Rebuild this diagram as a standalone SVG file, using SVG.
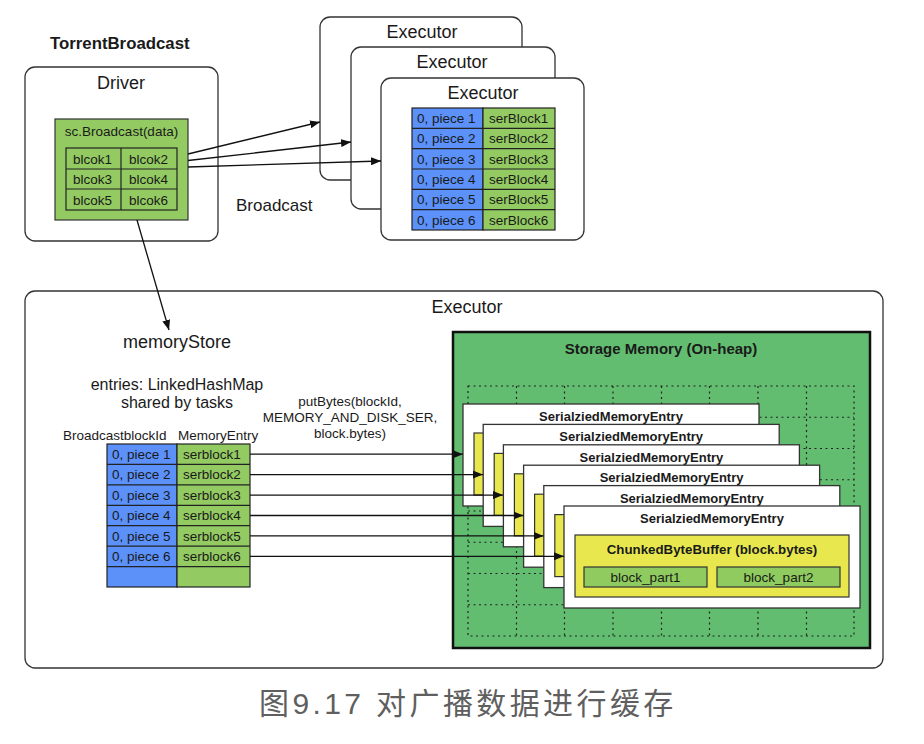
<svg xmlns="http://www.w3.org/2000/svg" width="924" height="744" viewBox="0 0 924 744">
<defs>
<marker id="ah" viewBox="0 0 10 8" refX="10" refY="4" markerWidth="10" markerHeight="8" markerUnits="userSpaceOnUse" orient="auto">
<path d="M0,0 L10,4 L0,8 z" fill="#111"/>
</marker>
<style>
text{font-family:"Liberation Sans",Arial,sans-serif;fill:#1a1a1a}
.box{fill:#fff;stroke:#333;stroke-width:1.3}
.blue{fill:#5b91f8;stroke:#222;stroke-width:1.2}
.grn{fill:#93cb62;stroke:#222;stroke-width:1.2}
.cell{fill:none;stroke:#222;stroke-width:1.2}
.t13{font-size:13.5px}
.t18{font-size:18px}
.b13{font-size:13px;font-weight:bold}
.sme{fill:#fff;stroke:#333;stroke-width:1.3}
.yel{fill:#e8e84e;stroke:#333;stroke-width:1.2}
.dot{fill:none;stroke:#222;stroke-width:1.2;stroke-dasharray:2 3.5}
.ln{fill:none;stroke:#111;stroke-width:1.3;marker-end:url(#ah)}
</style>
</defs>
<rect width="924" height="744" fill="#fff"/>

<text x="50" y="49" style="font-size:16.8px;font-weight:bold">TorrentBroadcast</text>

<g id="driver">
<rect class="box" x="25" y="67" width="193" height="174" rx="10"/>
<text class="t18" x="121" y="89" text-anchor="middle">Driver</text>
<rect x="55" y="119" width="133" height="101" fill="#93cb62" stroke="#333" stroke-width="1.2"/>
<text class="t13" x="121.5" y="136" text-anchor="middle">sc.Broadcast(data)</text>
<rect class="cell" x="66" y="148" width="111" height="62"/>
<line x1="121" y1="148" x2="121" y2="210" stroke="#222" stroke-width="1.2"/>
<line x1="66" y1="169" x2="177" y2="169" stroke="#222" stroke-width="1.2"/>
<line x1="66" y1="189" x2="177" y2="189" stroke="#222" stroke-width="1.2"/>
<text class="t13" x="73" y="164">blcok1</text><text class="t13" x="129" y="164">blcok2</text>
<text class="t13" x="73" y="184">blcok3</text><text class="t13" x="129" y="184">blcok4</text>
<text class="t13" x="73" y="205">blcok5</text><text class="t13" x="129" y="205">blcok6</text>
</g>

<g id="executor1">
<rect class="box" x="320" y="17" width="202" height="163" rx="10"/>
<text class="t18" x="422" y="38" text-anchor="middle">Executor</text>
</g>
<g id="executor2">
<rect class="box" x="351" y="47" width="204" height="162" rx="10"/>
<text class="t18" x="452" y="68" text-anchor="middle">Executor</text>
</g>
<g id="executor3">
<rect class="box" x="381" y="78" width="203" height="162" rx="10"/>
<text class="t18" x="483" y="99" text-anchor="middle">Executor</text>
<rect class="blue" x="412" y="108" width="71" height="122"/>
<rect class="grn" x="483" y="108" width="72" height="122"/>
<g stroke="#222" stroke-width="1.2">
<line x1="412" y1="128.3" x2="555" y2="128.3"/>
<line x1="412" y1="148.7" x2="555" y2="148.7"/>
<line x1="412" y1="169" x2="555" y2="169"/>
<line x1="412" y1="189.3" x2="555" y2="189.3"/>
<line x1="412" y1="209.7" x2="555" y2="209.7"/>
</g>
<text class="t13" x="417" y="123">0, piece 1</text><text class="t13" x="489" y="123">serBlock1</text>
<text class="t13" x="417" y="143.3">0, piece 2</text><text class="t13" x="489" y="143.3">serBlock2</text>
<text class="t13" x="417" y="163.7">0, piece 3</text><text class="t13" x="489" y="163.7">serBlock3</text>
<text class="t13" x="417" y="184">0, piece 4</text><text class="t13" x="489" y="184">serBlock4</text>
<text class="t13" x="417" y="204.3">0, piece 5</text><text class="t13" x="489" y="204.3">serBlock5</text>
<text class="t13" x="417" y="224.7">0, piece 6</text><text class="t13" x="489" y="224.7">serBlock6</text>
</g>

<text x="236" y="211" style="font-size:17px">Broadcast</text>

<g id="executor-main">
<rect class="box" x="25" y="291" width="858" height="377" rx="10"/>
<text class="t18" x="467" y="313" text-anchor="middle">Executor</text>
</g>

<g id="memoryStore">
<text class="t18" x="177" y="348" text-anchor="middle">memoryStore</text>
<text x="177" y="390" text-anchor="middle" style="font-size:16px">entries: LinkedHashMap</text>
<text x="177" y="408" text-anchor="middle" style="font-size:16px">shared by tasks</text>
<text class="t13" x="63" y="440">BroadcastblockId</text>
<text class="t13" x="178" y="440">MemoryEntry</text>
<rect class="blue" x="107" y="444" width="70" height="143"/>
<rect class="grn" x="177" y="444" width="73" height="143"/>
<g stroke="#222" stroke-width="1.2">
<line x1="107" y1="464.4" x2="250" y2="464.4"/>
<line x1="107" y1="484.9" x2="250" y2="484.9"/>
<line x1="107" y1="505.3" x2="250" y2="505.3"/>
<line x1="107" y1="525.7" x2="250" y2="525.7"/>
<line x1="107" y1="546.1" x2="250" y2="546.1"/>
<line x1="107" y1="566.6" x2="250" y2="566.6"/>
</g>
<text class="t13" x="112" y="459">0, piece 1</text><text class="t13" x="183" y="459">serblock1</text>
<text class="t13" x="112" y="479.4">0, piece 2</text><text class="t13" x="183" y="479.4">serblock2</text>
<text class="t13" x="112" y="499.8">0, piece 3</text><text class="t13" x="183" y="499.8">serblock3</text>
<text class="t13" x="112" y="520.3">0, piece 4</text><text class="t13" x="183" y="520.3">serblock4</text>
<text class="t13" x="112" y="540.7">0, piece 5</text><text class="t13" x="183" y="540.7">serblock5</text>
<text class="t13" x="112" y="561.1">0, piece 6</text><text class="t13" x="183" y="561.1">serblock6</text>
</g>

<g id="putBytes-label">
<text class="t13" x="350" y="406" text-anchor="middle">putBytes(blockId,</text>
<text class="t13" x="350" y="422" text-anchor="middle">MEMORY_AND_DISK_SER,</text>
<text class="t13" x="350" y="438" text-anchor="middle">block.bytes)</text>
</g>

<g id="storage-memory">
<rect x="453" y="332" width="417" height="316" fill="#62bd70" stroke="#111" stroke-width="2.5"/>
<text x="661" y="354" text-anchor="middle" style="font-size:15px;font-weight:bold">Storage Memory (On-heap)</text>
<rect class="dot" x="468" y="386" width="386" height="250"/>
<path class="dot" d="M516.5,386V636M564.5,386V636M613,386V636M661.5,386V636M709.5,386V636M758,386V636M806.5,386V636M468,417.25H854M468,448.5H854M468,479.75H854M468,511H854M468,542.25H854M468,573.5H854M468,604.75H854"/>
</g>

<g id="sme1">
<rect class="sme" x="463" y="404" width="296" height="102"/>
<rect class="yel" x="474" y="433" width="274" height="62"/>
<text class="b13" x="611" y="421" text-anchor="middle">SerialziedMemoryEntry</text>
</g>
<g id="sme2">
<rect class="sme" x="483.2" y="424.4" width="296" height="102"/>
<rect class="yel" x="494.2" y="453.4" width="274" height="62"/>
<text class="b13" x="631.2" y="441.4" text-anchor="middle">SerialziedMemoryEntry</text>
</g>
<g id="sme3">
<rect class="sme" x="503.4" y="444.8" width="296" height="102"/>
<rect class="yel" x="514.4" y="473.8" width="274" height="62"/>
<text class="b13" x="651.4" y="461.8" text-anchor="middle">SerialziedMemoryEntry</text>
</g>
<g id="sme4">
<rect class="sme" x="523.6" y="465.2" width="296" height="102"/>
<rect class="yel" x="534.6" y="494.2" width="274" height="62"/>
<text class="b13" x="671.6" y="482.2" text-anchor="middle">SerialziedMemoryEntry</text>
</g>
<g id="sme5">
<rect class="sme" x="543.8" y="485.6" width="296" height="102"/>
<rect class="yel" x="554.8" y="514.6" width="274" height="62"/>
<text class="b13" x="691.8" y="502.6" text-anchor="middle">SerialziedMemoryEntry</text>
</g>
<g id="sme6">
<rect class="sme" x="564" y="506" width="296" height="102"/>
<rect class="yel" x="575" y="535" width="274" height="62"/>
<text class="b13" x="712" y="523" text-anchor="middle">SerialziedMemoryEntry</text>
<text x="712" y="554" text-anchor="middle" style="font-size:13.3px;font-weight:bold">ChunkedByteBuffer (block.bytes)</text>
<rect x="584" y="567" width="123" height="20" fill="#8fcb5e" stroke="#333" stroke-width="1.2"/>
<rect x="717" y="567" width="123" height="20" fill="#8fcb5e" stroke="#333" stroke-width="1.2"/>
<text class="t13" x="645.5" y="582" text-anchor="middle">block_part1</text>
<text class="t13" x="778.5" y="582" text-anchor="middle">block_part2</text>
</g>

<g id="connectors">
<line class="ln" x1="188" y1="154" x2="320" y2="122"/>
<line class="ln" x1="188" y1="160.5" x2="351" y2="142"/>
<line class="ln" x1="188" y1="167" x2="381" y2="161"/>
<line class="ln" x1="137" y1="220" x2="169" y2="330"/>
<line class="ln" x1="250" y1="454.2" x2="463" y2="454.2"/>
<line class="ln" x1="250" y1="474.6" x2="483" y2="474.6"/>
<line class="ln" x1="250" y1="495.1" x2="503" y2="495.1"/>
<line class="ln" x1="250" y1="515.5" x2="523.5" y2="515.5"/>
<line class="ln" x1="250" y1="535.9" x2="543.5" y2="535.9"/>
<line class="ln" x1="250" y1="556.3" x2="564" y2="556.3"/>
</g>

<text x="259" y="714" style="font-family:'Liberation Sans','Noto Sans CJK SC',sans-serif;font-size:30px;letter-spacing:3.4px;fill:#5f5f5f">图9.17 对广播数据进行缓存</text>
</svg>
